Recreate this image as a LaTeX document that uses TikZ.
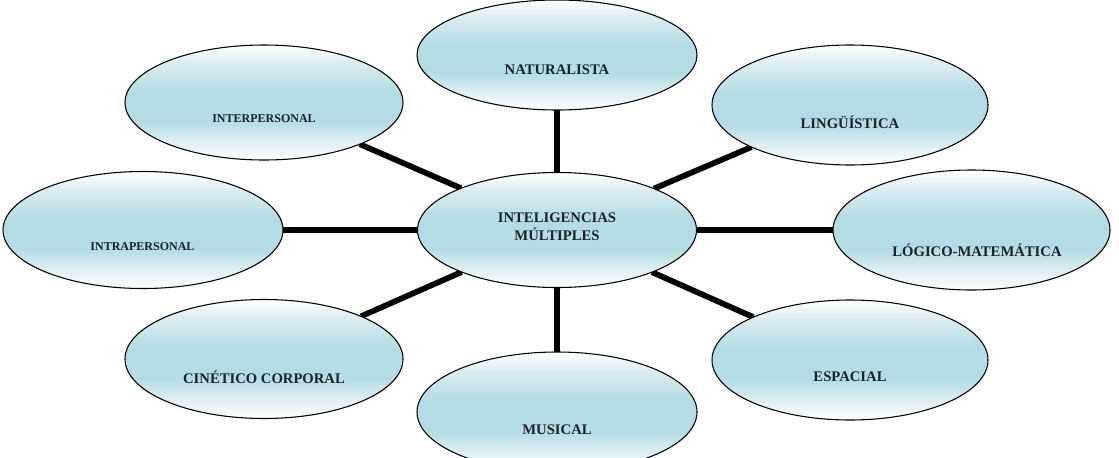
\documentclass[tikz,border=0pt]{standalone}
\usepackage{fontspec}
\setmainfont{Liberation Serif}
\usetikzlibrary{shapes.geometric,backgrounds}
\definecolor{iblue}{RGB}{180,220,228}
\definecolor{itext}{RGB}{25,35,40}
\pgfdeclareverticalshading{eshade}{100bp}{color(0bp)=(white); color(25bp)=(white); color(33bp)=(iblue!45!white); color(42bp)=(iblue); color(55bp)=(iblue); color(67bp)=(iblue!50!white); color(75bp)=(white); color(100bp)=(white)}
\tikzset{
  oval/.style={ellipse, draw=black, line width=0.8pt, shading=eshade, inner sep=0pt, outer sep=0pt},
  lab/.style={font=\fontsize{11}{13.5}\selectfont\bfseries, text=itext, align=center, inner sep=0pt},
  smalllab/.style={font=\fontsize{9}{11}\selectfont\bfseries, text=itext, align=center, inner sep=0pt},
  link/.style={line width=4.3pt, draw=black}
}
\begin{document}
\begin{tikzpicture}[x=0.75pt,y=-0.75pt]
\clip (0,0) rectangle (1119,457);
% ovals
\node[oval, minimum width=209.25pt, minimum height=86.25pt] (cent) at (557,230) {};
\node[oval, minimum width=210pt, minimum height=82.5pt] (nat) at (557,55) {};
\node[oval, minimum width=207pt, minimum height=90pt] (ling) at (850,105) {};
\node[oval, minimum width=207.75pt, minimum height=90pt] (logi) at (971.5,230) {};
\node[oval, minimum width=207pt, minimum height=90pt] (esp) at (850,360) {};
\node[oval, minimum width=210pt, minimum height=90pt] (mus) at (557,412) {};
\node[oval, minimum width=208.5pt, minimum height=89.25pt] (cin) at (264,359) {};
\node[oval, minimum width=208.5pt, minimum height=86.25pt] (inter) at (264,102.5) {};
\node[oval, minimum width=210pt, minimum height=87.75pt] (intra) at (143,230) {};
% labels
\node[lab] (centT) at (557,227) {INTELIGENCIAS\\MÚLTIPLES};
\node[lab] (natT) at (557,70) {NATURALISTA};
\node[lab] (lingT) at (850,122) {LINGÜÍSTICA};
\node[lab] (logiT) at (977,250) {LÓGICO-MATEMÁTICA};
\node[lab] (espT) at (850,377) {ESPACIAL};
\node[lab] (musT) at (557,430) {MUSICAL};
\node[lab] (cinT) at (264,377) {CINÉTICO CORPORAL};
\node[smalllab] (interT) at (264,119) {INTERPERSONAL};
\node[smalllab] (intraT) at (142.5,247) {INTRAPERSONAL};
% connectors
\begin{scope}[on background layer]
\draw[link] (cent) -- (nat);
\draw[link] (cent) -- (ling);
\draw[link] (cent) -- (logi);
\draw[link] (cent) -- (esp);
\draw[link] (cent) -- (mus);
\draw[link] (cent) -- (cin);
\draw[link] (cent) -- (intra);
\draw[link] (cent) -- (inter);
\end{scope}
\end{tikzpicture}
\end{document}
